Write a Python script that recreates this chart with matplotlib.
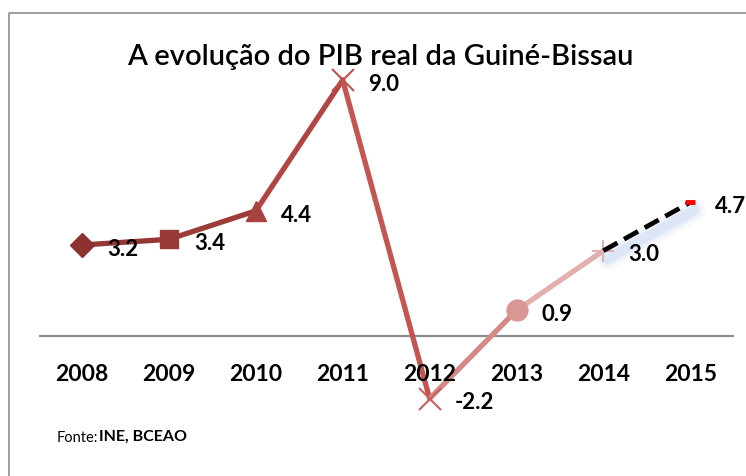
import numpy as np
import matplotlib
matplotlib.use('Agg')
import matplotlib.pyplot as plt
import matplotlib.transforms as mtransforms
from matplotlib.lines import Line2D

# data
years = ['2008', '2009', '2010', '2011', '2012', '2013', '2014', '2015']
growth = [3.2, 3.4, 4.4, 9.0, -2.2, 0.9, 3.0, 4.7]
labels = ['3.2', '3.4', '4.4', '9.0', '-2.2', '0.9', '3.0', '4.7']
title = 'A evolução do PIB real da Guiné-Bissau'

plt.rcParams['font.family'] = ['Lato', 'DejaVu Sans']

W, H = 746, 476
fig = plt.figure(figsize=(W / 100, H / 100), dpi=100, facecolor='white')
ax = fig.add_axes([0, 0, 1, 1])
ax.set_axis_off()

# pixel layout -> data limits
x0, dx = 82, 86.9
y0, dy = 336, 28.44
ax.set_xlim((0 - x0) / dx, (W - x0) / dx)
ax.set_ylim((y0 - H) / dy, y0 / dy)

x = np.arange(len(years))
y = np.array(growth)

# zero line
ax.hlines(0, -0.5, len(years) - 0.5, color='#8c8c8c', lw=1.6, zorder=1)

# colour ramps for the solid part
seg_colors = ['#953735', '#9d3b39', '#b24543', '#c55553', '#d58886', '#e3aead']
mk_colors = ['#8c3331', '#9a3a37', '#a9413e', '#c0504d', '#c8625f', '#d99694', '#e1b0af']
markers = ['D', 's', '^', 'x', 'x', 'o', '+']
msizes = [12, 13, 14, 16, 16, 15, 16]

for i in range(6):
    ax.plot(x[i:i + 2], y[i:i + 2], color=seg_colors[i], lw=3.8,
            solid_capstyle='round', zorder=2)
for i in range(7):
    mew = 1.5 if markers[i] in ('x', '+') else 1
    ax.plot(x[i], y[i], marker=markers[i], ms=msizes[i], color=mk_colors[i],
            mew=mew, zorder=3, linestyle='none')

# blurred shadow under the forecast segment
for lw, a in [(16, 0.10), (11, 0.14), (7, 0.22)]:
    tr = mtransforms.offset_copy(ax.transData, fig=fig, x=4, y=-8, units='dots')
    ax.plot(x[6:8], y[6:8], color='#a9c4e8', lw=lw, alpha=a,
            solid_capstyle='round', transform=tr, zorder=2)

# dashed forecast
ax.plot(x[6:8], y[6:8], color='black', lw=3.4, dashes=(3.4, 1.6), zorder=4)
ax.plot(x[7], y[7], marker='_', ms=7, mew=3.5, color='#ff0000', zorder=5)

# data labels
for i, lab in enumerate(labels):
    ax.annotate(lab, (x[i], y[i]), xytext=(18, -3), textcoords='offset points',
                ha='left', va='center', fontsize=16, fontweight='bold', color='black')

# category labels
for i, yr in enumerate(years):
    ax.annotate(yr, (x[i], 0), xytext=(0, -28), textcoords='offset points',
                ha='center', va='center', fontsize=16.5, fontweight='bold', color='black')

# title
fig.text(380 / W, 1 - 57 / H, title, ha='center', va='center', fontsize=21,
         fontweight='semibold', color='black')

# source
fig.text(57 / W, 1 - 438 / H, 'Fonte:', ha='left', va='center', fontsize=10.5)
fig.text(99 / W, 1 - 437 / H, 'INE, BCEAO', ha='left', va='center', fontsize=11.5,
         fontweight='bold')

# chart frame (left and top edges)
fig.add_artist(Line2D([9 / W, 9 / W, 1], [0, 1 - 13 / H, 1 - 13 / H],
                      transform=fig.transFigure, color='#8c8c8c', lw=1.2))

fig.savefig('out.png', dpi=100, facecolor='white')
